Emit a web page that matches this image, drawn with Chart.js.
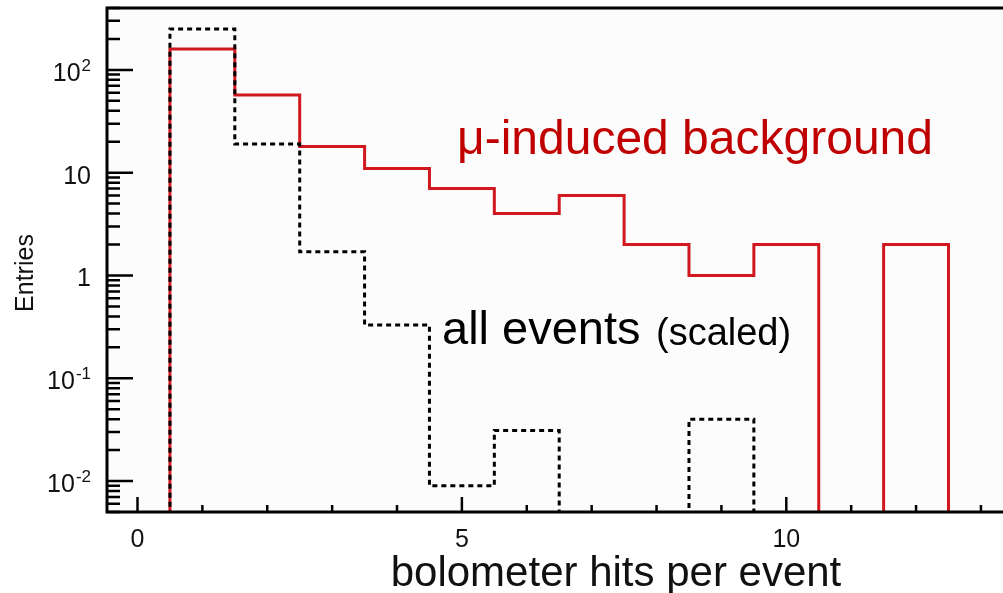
<!DOCTYPE html>
<html lang="en">
<head>
    <meta charset="UTF-8">
    <title>Bolometer hits per event</title>
    <script src="https://cdn.jsdelivr.net/npm/chart.js"></script>
    <style>
        html, body { margin: 0; padding: 0; background: #fff; overflow: hidden; }
        canvas { display: block; }
    </style>
</head>
<body>
    <canvas id="hitsChart" width="1003" height="593"></canvas>

    <script>
        // histogram bins (bin centre = number of hits)
        const binCenters = [1, 2, 3, 4, 5, 6, 7, 8, 9, 10, 11, 12];
        const muonBackground = [160, 57, 18, 11, 7, 4, 6, 2, 1, 2, 0, 2];
        const allEventsScaled = [250, 19, 1.7, 0.33, 0.009, 0.031, 0, 0, 0.04, 0, 0, 0];

        // axis labels
        const xLabelValues = [0, 5, 10];
        const xLabels = ['0', '5', '10'];
        const yLabelValues = [0.01, 0.1, 1, 10, 100];
        const yLabelBases = ['10', '10', '1', '10', '10'];
        const yLabelExps = ['-2', '-1', '', '', '2'];

        const X_MIN = -0.47, X_MAX = 13.34;
        const Y_MIN = 0.005, Y_MAX = 400;
        const FONT = "'Liberation Sans', Arial, sans-serif";

        // outline of a step histogram; empty bins drop below the axis (clipped away)
        function histOutline(centers, values) {
            const floor = Y_MIN / 10;
            const pts = [{ x: centers[0] - 0.5, y: floor }];
            centers.forEach((c, i) => {
                const v = values[i] > 0 ? values[i] : floor;
                pts.push({ x: c - 0.5, y: v });
                pts.push({ x: c + 0.5, y: v });
            });
            pts.push({ x: centers[centers.length - 1] + 0.5, y: floor });
            return pts;
        }

        const framePlugin = {
            id: 'frame',
            beforeDraw(chart) {
                const { ctx, chartArea: a } = chart;
                ctx.save();
                ctx.fillStyle = '#ffffff';
                ctx.fillRect(0, 0, chart.width, chart.height);
                ctx.fillStyle = '#fcfcfc';
                ctx.fillRect(a.left, a.top, a.right - a.left, a.bottom - a.top);
                ctx.restore();
            },
            afterDatasetsDraw(chart) {
                const { ctx, chartArea: a } = chart;
                const xs = chart.scales.x, ys = chart.scales.y;
                ctx.save();
                ctx.strokeStyle = '#000';
                ctx.lineWidth = 3;
                ctx.beginPath();
                ctx.moveTo(a.left, a.top); ctx.lineTo(a.right + 2, a.top);
                ctx.moveTo(a.left, a.top - 1.5); ctx.lineTo(a.left, a.bottom + 1.5);
                ctx.moveTo(a.left, a.bottom); ctx.lineTo(a.right + 2, a.bottom);
                ctx.stroke();

                // x ticks, pointing into the plot
                ctx.lineWidth = 2.5;
                ctx.beginPath();
                for (let v = Math.ceil(X_MIN); v <= Math.floor(X_MAX); v++) {
                    const px = xs.getPixelForValue(v);
                    const len = v % 5 === 0 ? 15 : 7;
                    ctx.moveTo(px, a.bottom); ctx.lineTo(px, a.bottom - len);
                }
                // y ticks, decades long, 2..9 short
                for (let e = -3; e <= 2; e++) {
                    for (let m = 1; m <= 9; m++) {
                        const v = m * Math.pow(10, e);
                        if (v < Y_MIN * 0.999 || v > Y_MAX * 1.001) continue;
                        const py = ys.getPixelForValue(v);
                        const len = m === 1 ? 26 : 13;
                        ctx.moveTo(a.left, py); ctx.lineTo(a.left + len, py);
                    }
                }
                ctx.stroke();

                // tick labels
                ctx.fillStyle = '#111';
                ctx.font = '25px ' + FONT;
                ctx.textAlign = 'center';
                ctx.textBaseline = 'alphabetic';
                xLabelValues.forEach((v, i) => {
                    ctx.fillText(xLabels[i], xs.getPixelForValue(v), 547);
                });
                yLabelValues.forEach((v, i) => {
                    const py = ys.getPixelForValue(v);
                    let right = 91;
                    ctx.textAlign = 'right';
                    if (yLabelExps[i]) {
                        ctx.font = '17px ' + FONT;
                        ctx.fillText(yLabelExps[i], right, py + 1);
                        right -= ctx.measureText(yLabelExps[i]).width + 1;
                    }
                    ctx.font = '25px ' + FONT;
                    ctx.fillText(yLabelBases[i], right, py + 11);
                });

                // axis titles
                ctx.textAlign = 'center';
                ctx.font = '42px ' + FONT;
                ctx.fillText('bolometer hits per event', 616, 586);
                ctx.save();
                ctx.translate(33, 273);
                ctx.rotate(-Math.PI / 2);
                ctx.font = '25px ' + FONT;
                ctx.fillText('Entries', 0, 0);
                ctx.restore();

                // series annotations
                ctx.textAlign = 'left';
                ctx.fillStyle = '#c00000';
                ctx.font = '48px ' + FONT;
                ctx.fillText('\u03bc-induced background', 457, 154);
                ctx.fillStyle = '#000';
                ctx.font = '47px ' + FONT;
                ctx.fillText('all events', 442, 344);
                ctx.font = '38px ' + FONT;
                ctx.fillText('(scaled)', 656, 345);
                ctx.restore();
            }
        };

        const ctx = document.getElementById('hitsChart').getContext('2d');
        new Chart(ctx, {
            type: 'line',
            data: {
                datasets: [
                    {
                        label: 'all events (scaled)',
                        data: histOutline(binCenters, allEventsScaled),
                        borderColor: '#000000',
                        borderWidth: 3,
                        borderDash: [5, 4],
                        pointRadius: 0,
                        fill: false,
                        order: 0
                    },
                    {
                        label: '\u03bc-induced background',
                        data: histOutline(binCenters, muonBackground),
                        borderColor: '#d0181e',
                        borderWidth: 3,
                        pointRadius: 0,
                        fill: false,
                        order: 1
                    }
                ]
            },
            options: {
                responsive: false,
                animation: false,
                layout: { padding: { left: 107, top: 8, right: 0, bottom: 81 } },
                plugins: { legend: { display: false }, tooltip: { enabled: false } },
                scales: {
                    x: { type: 'linear', min: X_MIN, max: X_MAX, display: false },
                    y: { type: 'logarithmic', min: Y_MIN, max: Y_MAX, display: false }
                }
            },
            plugins: [framePlugin]
        });
    </script>
</body>
</html>
